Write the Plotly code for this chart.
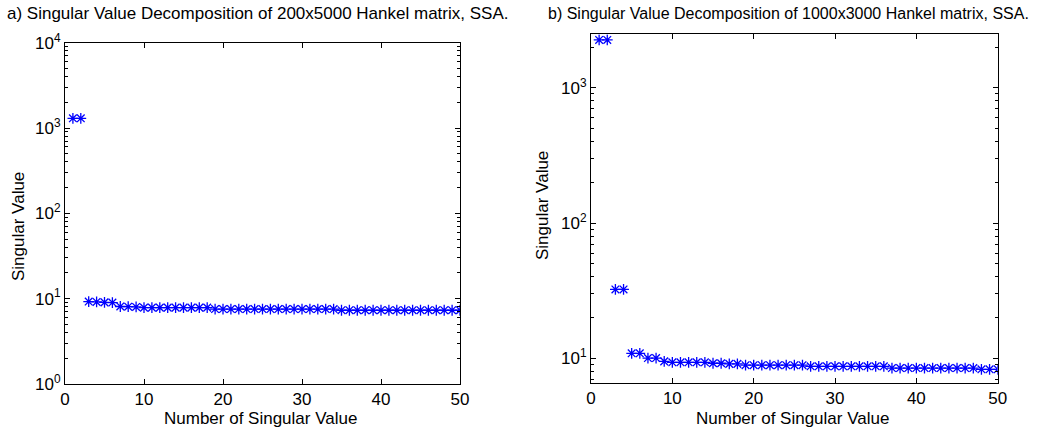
import math
import plotly.graph_objects as go
from plotly.subplots import make_subplots

# ---- data ----
n_left = list(range(1, 51))
sv_left = ([1300, 1300, 9.25, 9.15, 9.05, 9.0, 8.1, 8.05, 8.0]
           + [7.85] * 9 + [7.56] * 16 + [7.32] * 16)

n_right = list(range(1, 51))
sv_right = ([2255, 2255, 32.3, 32.3, 10.9, 10.9, 10.05, 10.05, 9.5]
            + [9.35] * 5 + [9.2] * 2 + [9.1] * 2 + [8.9] * 8 + [8.73] * 10
            + [8.48] * 11 + [8.3] * 3)

title_a = "a) Singular Value Decomposition of 200x5000 Hankel matrix, SSA."
title_b = "b) Singular Value Decomposition of 1000x3000 Hankel matrix, SSA."
x_title = "Number of Singular Value"
y_title = "Singular Value"
x_ticks = [0, 10, 20, 30, 40, 50]
y_ticks_left = [1, 10, 100, 1000, 10000]
y_ticks_right = [10, 100, 1000]
minor_mult = [2, 3, 4, 5, 6, 7, 8, 9]

W, H = 1051, 433
FONT = "Arial, Liberation Sans, sans-serif"
BLUE = "rgb(0,0,255)"

fig = make_subplots(rows=1, cols=2)

for col, (xs, ys) in enumerate([(n_left, sv_left), (n_right, sv_right)], start=1):
    fig.add_trace(go.Scatter(
        x=xs, y=ys, mode="markers",
        marker=dict(symbol="asterisk-open", size=9, color=BLUE,
                    line=dict(color=BLUE, width=1.3)),
        showlegend=False), row=1, col=col)

def px_x(p):
    return p / W

def px_y(p):
    return (H - p) / H

axis_common = dict(showline=True, linecolor="black", linewidth=1, mirror="ticks",
                   ticks="inside", ticklen=5, tickcolor="black", showgrid=False,
                   zeroline=False, automargin=False,
                   tickfont=dict(family=FONT, size=17, color="black"))

def sup(v):
    return "10<sup>%d</sup>" % round(math.log10(v))

def minor_vals(decades):
    return [m * 10 ** d for d in decades for m in minor_mult]

fig.update_xaxes(**axis_common, range=[0, 50], tickvals=x_ticks)
fig.update_layout(
    xaxis=dict(domain=[px_x(65), px_x(460)]),
    xaxis2=dict(domain=[px_x(591), px_x(997.7)]),
    yaxis=dict(type="log", domain=[px_y(384), px_y(42.7)], range=[0, 4],
               tickvals=y_ticks_left, ticktext=[sup(v) for v in y_ticks_left],
               minor=dict(tickmode="array", tickvals=minor_vals([0, 1, 2, 3]),
                          ticks="inside", ticklen=3, tickcolor="black", showgrid=False),
               **axis_common),
    yaxis2=dict(type="log", domain=[px_y(382.7), px_y(34.3)], range=[0.82, 3.395],
                tickvals=y_ticks_right, ticktext=[sup(v) for v in y_ticks_right],
                minor=dict(tickmode="array", tickvals=minor_vals([0, 1, 2, 3]),
                           ticks="inside", ticklen=3, tickcolor="black", showgrid=False),
                **axis_common),
    width=W, height=H, margin=dict(l=0, r=0, t=0, b=0, autoexpand=False),
    paper_bgcolor="white", plot_bgcolor="white",
    font=dict(family=FONT, size=17, color="black"),
)

ann = []
ann.append(dict(text=title_a, x=px_x(5), y=px_y(14), xanchor="left", yanchor="middle", size=17))
ann.append(dict(text=title_b, x=px_x(546), y=px_y(14), xanchor="left", yanchor="middle", size=16))
ann.append(dict(text=x_title, x=px_x(260), y=px_y(418), xanchor="center", yanchor="middle", size=17))
ann.append(dict(text=x_title, x=px_x(792), y=px_y(418), xanchor="center", yanchor="middle", size=17))
ann.append(dict(text=y_title, x=px_x(18), y=px_y(227), xanchor="center", yanchor="middle", textangle=-90, size=17))
ann.append(dict(text=y_title, x=px_x(543), y=px_y(206), xanchor="center", yanchor="middle", textangle=-90, size=17))
for a in ann:
    s = a.pop("size")
    a.update(xref="paper", yref="paper", showarrow=False,
             font=dict(family=FONT, size=s, color="black"))
fig.update_layout(annotations=ann)

fig.write_html("out.html")
